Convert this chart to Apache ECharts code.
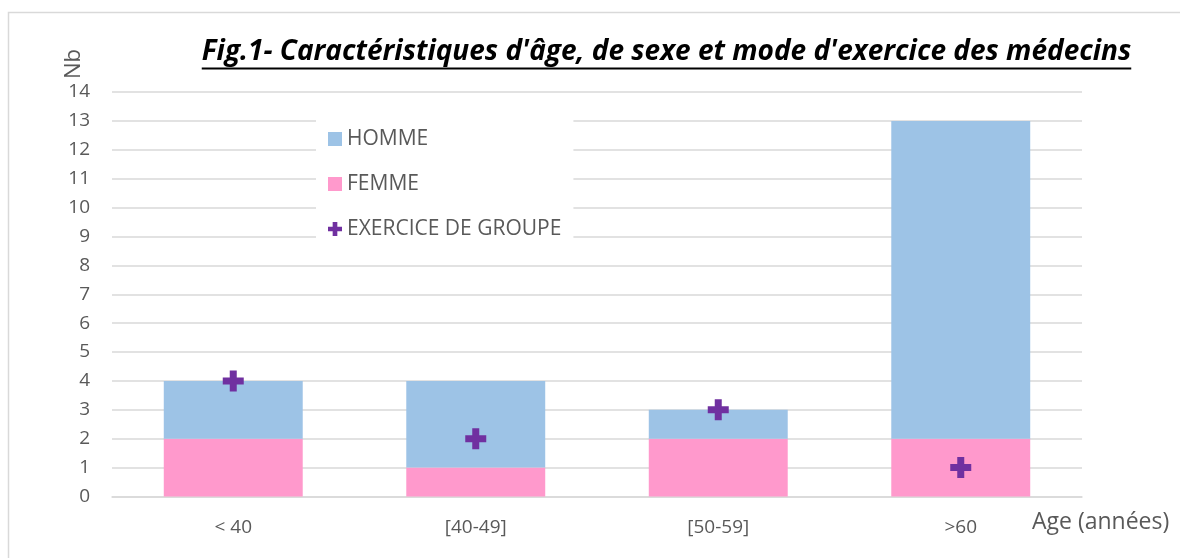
<!DOCTYPE html>
<html><head><meta charset="utf-8">
<script src="https://cdn.jsdelivr.net/npm/echarts@6/dist/echarts.min.js"></script>
<style>html,body{margin:0;padding:0;background:#fff;overflow:hidden}#c{width:1180px;height:558px}</style>
</head><body><div id="c"></div>
<script>
const categories = ['< 40', '[40-49]', '[50-59]', '>60'];
const homme = [2, 3, 1, 11];
const femme = [2, 1, 2, 2];
const exercice = [4, 2, 3, 1];
const yTicks = [0, 14, 1];

const FONT = 'Open Sans';
const titleText = "Fig.1- Caractéristiques d'âge, de sexe et mode d'exercice des médecins";
const titleFont = 'italic bold 28px "' + FONT + '"';
const cv = document.createElement('canvas').getContext('2d');
cv.font = titleFont;
const tw = cv.measureText(titleText).width;
const tcx = 666.5;
const cross = 'path://M7,0H14V7H21V14H14V21H7V14H0V7H7Z';

const chart = echarts.init(document.getElementById('c'), null, {renderer: 'canvas'});
chart.setOption({
  animation: false,
  backgroundColor: '#fff',
  grid: {left: 112, right: 98, top: 92, bottom: 61.5, containLabel: false},
  legend: {
    orient: 'vertical', left: 316, top: 105,
    padding: [23, 12, 18, 12], backgroundColor: '#fff',
    itemWidth: 14, itemHeight: 14, itemGap: 23,
    textStyle: {fontFamily: FONT, fontSize: 21, color: '#595959', lineHeight: 22},
    data: [
      {name: 'HOMME', icon: 'rect'},
      {name: 'FEMME', icon: 'rect'},
      {name: 'EXERCICE DE GROUPE', icon: cross}
    ]
  },
  xAxis: {
    type: 'category', data: categories,
    name: 'Age (années)', nameLocation: 'end', nameGap: -50,
    nameTextStyle: {fontFamily: FONT, fontSize: 23, color: '#595959', align: 'left', verticalAlign: 'top', padding: [14, 0, 0, 0]},
    axisLine: {lineStyle: {color: '#d9d9d9', width: 1.5}},
    axisTick: {show: false},
    axisLabel: {fontFamily: FONT, fontSize: 19, color: '#595959', margin: 22}
  },
  yAxis: {
    type: 'value', min: yTicks[0], max: yTicks[1], interval: yTicks[2],
    axisLine: {show: false}, axisTick: {show: false},
    splitLine: {lineStyle: {color: '#d9d9d9', width: 1.5}},
    axisLabel: {fontFamily: FONT, fontSize: 19, color: '#595959', margin: 22}
  },
  series: [
    {name: 'FEMME', type: 'bar', stack: 'a', data: femme, barWidth: '57.3%', itemStyle: {color: '#FF99CC'}},
    {name: 'HOMME', type: 'bar', stack: 'a', data: homme, barWidth: '57.3%', itemStyle: {color: '#9DC3E6'}},
    {name: 'EXERCICE DE GROUPE', type: 'scatter', data: exercice, symbol: cross, symbolSize: 21, itemStyle: {color: '#7030A0', opacity: 1}, z: 5}
  ],
  graphic: [
    {type: 'rect', shape: {x: 8.5, y: 12.5, width: 1300, height: 700}, style: {fill: null, stroke: '#d9d9d9', lineWidth: 1.5}, silent: true},
    {type: 'text', x: tcx, y: 52, style: {text: titleText, font: titleFont, fill: '#000', align: 'center', verticalAlign: 'middle'}},
    {type: 'rect', shape: {x: tcx - tw / 2, y: 67.5, width: tw, height: 2}, style: {fill: '#000'}},
    {type: 'text', x: 74, y: 64, rotation: Math.PI / 2, style: {text: 'Nb', font: '22px "' + FONT + '"', fill: '#595959', align: 'center', verticalAlign: 'middle'}}
  ]
});
</script></body></html>
